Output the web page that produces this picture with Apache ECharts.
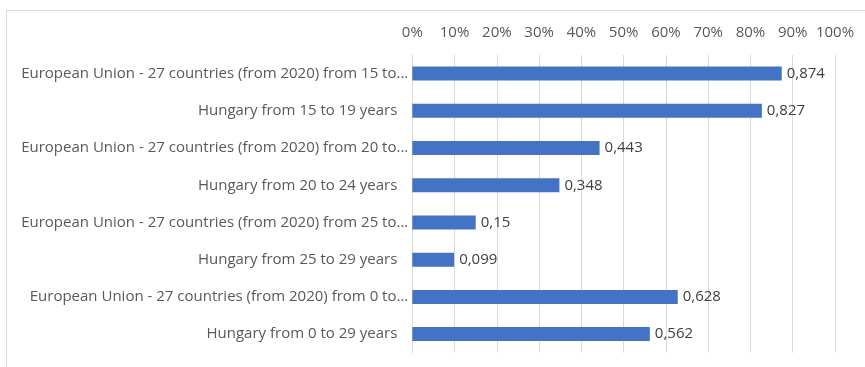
<!DOCTYPE html>
<html>
<head>
<meta charset="utf-8">
<script src="https://cdn.jsdelivr.net/npm/echarts@6/dist/echarts.min.js"></script>
<style>
  html, body { margin: 0; padding: 0; background: #ffffff; }
  #chart { width: 865px; height: 367px; }
</style>
</head>
<body>
<div id="chart"></div>
<script>
// Population groups, listed top to bottom
const categories = [
  'European Union - 27 countries (from 2020) from 15 to 19 years',
  'Hungary from 15 to 19 years',
  'European Union - 27 countries (from 2020) from 20 to 24 years',
  'Hungary from 20 to 24 years',
  'European Union - 27 countries (from 2020) from 25 to 29 years',
  'Hungary from 25 to 29 years',
  'European Union - 27 countries (from 2020) from 0 to 29 years',
  'Hungary from 0 to 29 years'
];

// Shares (0..1)
const values = [0.874, 0.827, 0.443, 0.348, 0.15, 0.099, 0.628, 0.562];

// Value-axis tick labels
const tickLabels = ['0%', '10%', '20%', '30%', '40%', '50%', '60%', '70%', '80%', '90%', '100%'];

const FONT = '"Open Sans", "Noto Sans", sans-serif';
const LABEL_FONT = '15px ' + FONT;
const LABEL_WIDTH = 392;

const chart = echarts.init(document.getElementById('chart'), null, { renderer: 'canvas' });

// Long names are cut to fit the label column, with no space before the ellipsis
function shortLabel(text) {
  const cut = echarts.format.truncateText(text, LABEL_WIDTH, LABEL_FONT, '...');
  return cut.replace(/\s+\.\.\.$/, '...');
}

const yData = categories.map(function (c) {
  const isHu = c.indexOf('Hungary') === 0;
  return isHu ? { value: c, textStyle: { padding: [0, 11, 0, 0] } } : c;
});

chart.setOption({
  animation: false,
  backgroundColor: '#ffffff',
  graphic: [{
    type: 'rect',
    shape: { x: 6.5, y: 10.5, width: 900, height: 400 },
    style: { fill: 'none', stroke: '#d9d9d9', lineWidth: 1 },
    silent: true,
    z: -1
  }],
  grid: { left: 412.3, right: 30, top: 55, bottom: 14.3, containLabel: false },
  xAxis: {
    type: 'value',
    position: 'top',
    min: 0,
    max: 1,
    interval: 0.1,
    axisLine: { show: false },
    axisTick: { show: false },
    axisLabel: {
      margin: 15,
      color: '#595959',
      fontFamily: FONT,
      fontSize: 15,
      formatter: function (v) {
        return tickLabels[Math.round(v * 10)];
      }
    },
    splitLine: { show: true, lineStyle: { color: '#d9d9d9', width: 1 } }
  },
  yAxis: {
    type: 'category',
    inverse: true,
    data: yData,
    axisLine: { show: true, lineStyle: { color: '#d9d9d9', width: 1 } },
    axisTick: { show: false },
    axisLabel: {
      margin: 4,
      color: '#595959',
      fontFamily: FONT,
      fontSize: 15,
      formatter: shortLabel
    }
  },
  series: [{
    type: 'bar',
    data: values,
    barWidth: 14,
    itemStyle: { color: '#4472c4' },
    label: {
      show: true,
      position: 'right',
      distance: 5,
      color: '#404040',
      fontFamily: FONT,
      fontSize: 15,
      formatter: function (p) {
        return String(p.value).replace('.', ',');
      }
    }
  }]
});
</script>
</body>
</html>
